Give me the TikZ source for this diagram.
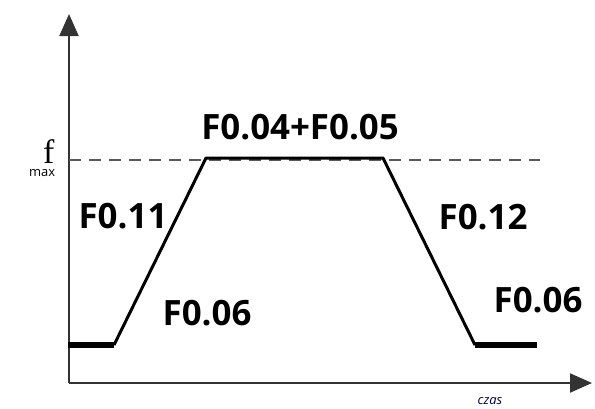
\documentclass[tikz,border=0pt]{standalone}
\usepackage{fontspec}
\setmainfont{Open Sans}
\newfontfamily\fserif{Liberation Serif}
\usetikzlibrary{arrows.meta, positioning}

\begin{document}
\begin{tikzpicture}[x=1bp, y=-1bp,
    param/.style={font=\bfseries\fontsize{35}{35}\selectfont, inner sep=0pt},
    axis/.style={line width=2.2bp, draw=black!80, -{Triangle[length=22bp, width=19bp]}},
    ramp/.style={line width=3bp, line join=round},
    level/.style={line width=5.5bp}]
    \useasboundingbox (0,0) rectangle (595,408);
    \clip (0,0) rectangle (595,408);

    % axes
    \coordinate (O) at (69, 383);
    \coordinate (ytop) at (69, 14);
    \coordinate (xend) at (592, 383);
    \draw[axis] (O) -- (ytop);
    \draw[axis] (O) -- (xend);

    % fmax level
    \coordinate (fm0) at (69, 160);
    \coordinate (fm1) at (540, 160);
    \draw[dashed, dash pattern=on 12bp off 8bp, line width=1.5bp, black!65] (fm0) -- (fm1);

    % speed profile
    \coordinate (s0) at (68, 345);
    \coordinate (s1) at (114, 345);
    \coordinate (s2) at (206, 158);
    \coordinate (s3) at (383, 158);
    \coordinate (s4) at (475, 345);
    \coordinate (s5) at (537, 345);
    \draw[level] (s0) -- (s1);
    \draw[ramp] (s1) -- (s2) -- (s3) -- (s4);
    \draw[level] (s4) -- (s5);

    % labels
    \node[param] (top) at (300, 127) {F0.04+F0.05};
    \node[param] (acc) at (123, 216) {F0.11};
    \node[param] (start) at (207, 313) {F0.06};
    \node[param] (dec) at (483, 217) {F0.12};
    \node[param] (stop) at (538, 300) {F0.06};

    \node[inner sep=0pt, anchor=base west] (fmax) at (29, 176)
        {\fontsize{13}{13}\selectfont max\hspace{-12bp}\raisebox{13bp}{\fserif\fontsize{34}{34}\selectfont f}};
    \node[inner sep=0pt, font=\itshape\fontsize{13}{13}\selectfont, text=black!70!blue] (czas) at (490, 401) {czas};
\end{tikzpicture}
\end{document}
